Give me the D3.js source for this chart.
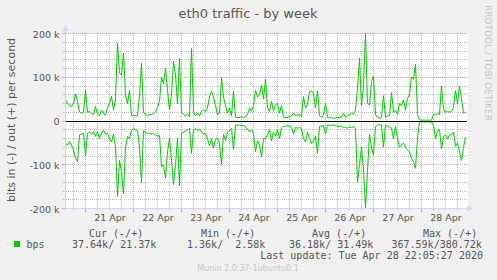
<!DOCTYPE html>
<html>
<head>
<meta charset="utf-8">
<script src="https://cdn.jsdelivr.net/npm/d3@7"></script>
<style>
  html, body { margin: 0; padding: 0; background: #f0f0f0; }
  svg { display: block; }
</style>
</head>
<body>
<div id="chart"></div>
<script>
// hourly samples, first one at Apr 20 14:00, values in k bits/s
const startTime = new Date(2020, 3, 20, 14, 0)
const endTime = new Date(2020, 3, 28, 22, 0)

const outValues = [
  48, 40, 34, 33, 40, 63, 45, 21, 18, 20, 71, 20, 22, 17, 15, 33, 15, 12, 25, 18,
  13, 30, 40, 56, 25, 48, 178, 110, 105, 155, 60, 40, 70, 12, 12, 12, 12, 60, 132, 20,
  14, 12, 14, 15, 17, 22, 30, 45, 100, 85,
  120, 70, 25, 60, 137, 105, 40, 143, 20, 15, 12, 16, 10, 166, 22, 12, 18, 12, 22, 25,
  22, 30, 55, 68, 55, 35, 15, 18, 99, 55, 35, 18, 30, 12, 68, 8, 8, 8, 10, 8,
  10, 15, 30, 22, 35, 70, 55, 60, 82, 50,
  96, 30, 22, 45, 22, 37, 40, 18, 35, 8, 8, 8, 10, 12, 18, 12, 14, 15, 10, 56,
  30, 38, 67, 69, 63, 30, 69, 12, 8, 14, 40, 8, 7, 8, 6, 7, 8, 8, 9, 18,
  8, 12, 14, 18, 15, 25, 75, 143, 35, 82,
  200, 40, 37, 90, 102, 15, 8, 6, 8, 58, 8, 12, 12, 65, 20, 25, 15, 40, 35, 48,
  25, 52, 60, 101, 95, 130, 15, 2, 2, 2, 2, 2, 2, 2, 15, 14, 17, 15, 80, 28,
  20, 22, 20, 22, 30, 70, 40, 80, 50, 18, 21
]

const inValues = [
  51, 55, 47, 55, 66, 85, 93, 32, 30, 28, 80, 28, 25, 30, 24, 35, 25, 40, 27, 21,
  30, 28, 40, 48, 30, 60, 172, 90, 116, 167, 60, 35, 40, 21, 17, 20, 22, 60, 141, 22,
  26, 28, 28, 30, 28, 32, 35, 33, 105, 100,
  131, 70, 40, 90, 145, 100, 40, 148, 28, 26, 22, 20, 17, 74, 20, 17, 22, 20, 24, 30,
  28, 40, 57, 40, 62, 42, 40, 50, 99, 30, 45, 25, 22, 17, 65, 9, 9, 11, 10, 11,
  14, 20, 24, 20, 28, 70, 45, 55, 82, 40,
  40, 32, 20, 45, 25, 35, 20, 40, 16, 12, 12, 10, 12, 14, 30, 14, 17, 14, 18, 40,
  48, 25, 40, 52, 45, 35, 74, 12, 12, 10, 30, 9, 9, 10, 9, 11, 12, 12, 12, 15,
  14, 17, 13, 15, 13, 17, 140, 100, 60, 110,
  200, 115, 30, 60, 78, 13, 9, 9, 9, 60, 9, 12, 14, 17, 40, 13, 40, 60, 55, 50,
  62, 66, 70, 85, 93, 108, 40, 2, 2, 2, 2, 2, 2, 2, 10, 40, 22, 20, 63, 35,
  32, 42, 32, 32, 25, 58, 50, 70, 90, 60, 37
]

const yTickValues = [-200, -100, 0, 100, 200]
const yTickLabels = ["-200 k", "-100 k", "0", "100 k", "200 k"]
const dayLabels = ["21 Apr", "22 Apr", "23 Apr", "24 Apr", "25 Apr", "26 Apr", "27 Apr", "28 Apr"]

const legendHeaders = ["Cur (-/+)", "Min (-/+)", "Avg (-/+)", "Max (-/+)"]
const legendValues = [" 37.64k/ 21.37k", "  1.36k/  2.58k", " 36.18k/ 31.49k", "367.59k/380.72k"]
const seriesName = "bps"
const lastUpdate = "Last update: Tue Apr 28 22:05:27 2020"

const width = 497
const height = 280
const green = "#00cc00"
const fontColor = "#555"
const minorGrid = "rgba(140,140,140,0.55)"
const majorGrid = "rgba(200,60,60,0.45)"
const axisColor = "#cfd6f8"

const svg = d3.select("#chart").append("svg")
  .attr("width", width)
  .attr("height", height)
  .style("font-family", "'DejaVu Sans', sans-serif")

svg.append("rect").attr("width", width).attr("height", height).attr("fill", "#f0f0f0")

const x = d3.scaleTime().domain([startTime, endTime]).range([65.5, 465.5])
const y = d3.scaleLinear().domain([-200, 200]).range([208.5, 33.5])
const px = v => Math.floor(v) + 0.5

// canvas
svg.append("rect")
  .attr("x", 66).attr("y", 33)
  .attr("width", 402).attr("height", 176)
  .attr("fill", "#fff")

const grid = svg.append("g").attr("shape-rendering", "crispEdges")

// horizontal grid, every 20k, red at 100k
const hLines = d3.range(-200, 201, 20)
grid.selectAll("line.h").data(hLines).join("line")
  .attr("x1", 66).attr("x2", 468)
  .attr("y1", d => px(y(d))).attr("y2", d => px(y(d)))
  .attr("stroke", d => d % 100 === 0 ? majorGrid : minorGrid)
  .attr("stroke-dasharray", "1,1")

// vertical grid, every 6 hours, red at midnight
const vLines = x.ticks(d3.timeHour.every(6)).filter(d => x(d) > 66)
grid.selectAll("line.v").data(vLines).join("line")
  .attr("x1", d => x(d)).attr("x2", d => x(d))
  .attr("y1", 33).attr("y2", 208)
  .attr("stroke", d => d.getHours() === 0 ? majorGrid : minorGrid)
  .attr("stroke-dasharray", "1,1")

// small ticks on the axes
grid.selectAll("line.xt").data(vLines).join("line")
  .attr("x1", d => x(d)).attr("x2", d => x(d))
  .attr("y1", 209).attr("y2", d => d.getHours() === 0 ? 212 : 210)
  .attr("stroke", d => d.getHours() === 0 ? majorGrid : minorGrid)
grid.selectAll("line.yt").data(hLines).join("line")
  .attr("x1", d => d % 100 === 0 ? 62 : 63).attr("x2", 65)
  .attr("y1", d => px(y(d))).attr("y2", d => px(y(d)))
  .attr("stroke", d => d % 100 === 0 ? majorGrid : minorGrid)

// data lines
const outData = outValues.map((v, i) => ({ t: d3.timeHour.offset(startTime, i), v }))
const inData = inValues.map((v, i) => ({ t: d3.timeHour.offset(startTime, i), v: -v }))

const line = d3.line().x(d => x(d.t)).y(d => y(d.v))

svg.append("path").datum(outData).attr("d", line)
  .attr("fill", "none").attr("stroke", green).attr("stroke-width", 1)
svg.append("path").datum(inData).attr("d", line)
  .attr("fill", "none").attr("stroke", green).attr("stroke-width", 1)

// zero rule
svg.append("line")
  .attr("x1", 66).attr("x2", 467)
  .attr("y1", px(y(0))).attr("y2", px(y(0)))
  .attr("stroke", "#000").attr("shape-rendering", "crispEdges")

// axes lines + arrows
svg.append("line")
  .attr("x1", 65.5).attr("x2", 65.5).attr("y1", 209).attr("y2", 29)
  .attr("stroke", axisColor).attr("shape-rendering", "crispEdges")
svg.append("line")
  .attr("x1", 65).attr("x2", 469).attr("y1", 208.5).attr("y2", 208.5)
  .attr("stroke", axisColor).attr("shape-rendering", "crispEdges")
svg.append("path").attr("d", "M62.5,31 L65.5,25 L68.5,31 Z").attr("fill", axisColor)
svg.append("path").attr("d", "M467,205.5 L473,208.5 L467,211.5 Z").attr("fill", axisColor)

// y axis labels
const yAxis = d3.axisLeft(y)
  .tickValues(yTickValues)
  .tickFormat((d, i) => yTickLabels[i])
  .tickSize(0)
  .tickPadding(6)
svg.append("g")
  .attr("transform", "translate(65.5,0.5)")
  .call(yAxis)
  .call(g => g.select(".domain").remove())
  .call(g => g.selectAll(".tick text")
    .attr("font-family", "'DejaVu Sans', sans-serif")
    .attr("font-size", 9.5)
    .attr("fill", fontColor))

// x axis labels at noon of each day
const noonTicks = dayLabels.map((_, i) => new Date(2020, 3, 21 + i, 12, 0))
const xAxis = d3.axisBottom(x)
  .tickValues(noonTicks)
  .tickFormat((d, i) => dayLabels[i])
  .tickSize(0)
svg.append("g")
  .attr("transform", "translate(0,208.5)")
  .call(xAxis)
  .call(g => g.select(".domain").remove())
  .call(g => g.selectAll(".tick text")
    .attr("y", 12.5).attr("dy", 0)
    .attr("font-family", "'DejaVu Sans', sans-serif")
    .attr("font-size", 9.5)
    .attr("fill", fontColor))

// title
svg.append("text")
  .attr("x", 248).attr("y", 18)
  .attr("text-anchor", "middle")
  .attr("font-size", 13)
  .attr("fill", fontColor)
  .text("eth0 traffic - by week")

// vertical axis title
svg.append("text")
  .attr("transform", "translate(15,120) rotate(-90)")
  .attr("text-anchor", "middle")
  .attr("font-size", 11)
  .attr("fill", fontColor)
  .text("bits in (-) / out (+) per second")

// rrdtool watermark
svg.append("text")
  .attr("transform", "translate(484.5,5) rotate(90)")
  .attr("font-size", 9)
  .attr("fill", "#c4c4c4")
  .text("RRDTOOL / TOBI OETIKER")

// legend
const mono = "'DejaVu Sans Mono', monospace"
const headerX = [89, 201, 312, 423]
const valueX = [66, 175, 283, 391.5]

svg.append("g").selectAll("text").data(legendHeaders).join("text")
  .attr("x", (d, i) => headerX[i]).attr("y", 236.5)
  .attr("font-family", mono).attr("font-size", 10)
  .attr("fill", fontColor)
  .style("white-space", "pre")
  .text(d => d)

svg.append("rect")
  .attr("x", 14).attr("y", 241).attr("width", 6).attr("height", 6)
  .attr("fill", green)
svg.append("text")
  .attr("x", 26.5).attr("y", 247.5)
  .attr("font-family", mono).attr("font-size", 10)
  .attr("fill", fontColor)
  .text(seriesName)

svg.append("g").selectAll("text").data(legendValues).join("text")
  .attr("x", (d, i) => valueX[i]).attr("y", 247.5)
  .attr("font-family", mono).attr("font-size", 10)
  .attr("fill", fontColor)
  .style("white-space", "pre")
  .text(d => d)

svg.append("text")
  .attr("x", 483).attr("y", 259)
  .attr("text-anchor", "end")
  .attr("font-family", mono).attr("font-size", 10)
  .attr("fill", fontColor)
  .text(lastUpdate)

svg.append("text")
  .attr("x", 248).attr("y", 271)
  .attr("text-anchor", "middle")
  .attr("font-size", 8)
  .attr("fill", "#c8c8c8")
  .text("Munin 2.0.37-1ubuntu0.1")
</script>
</body>
</html>
